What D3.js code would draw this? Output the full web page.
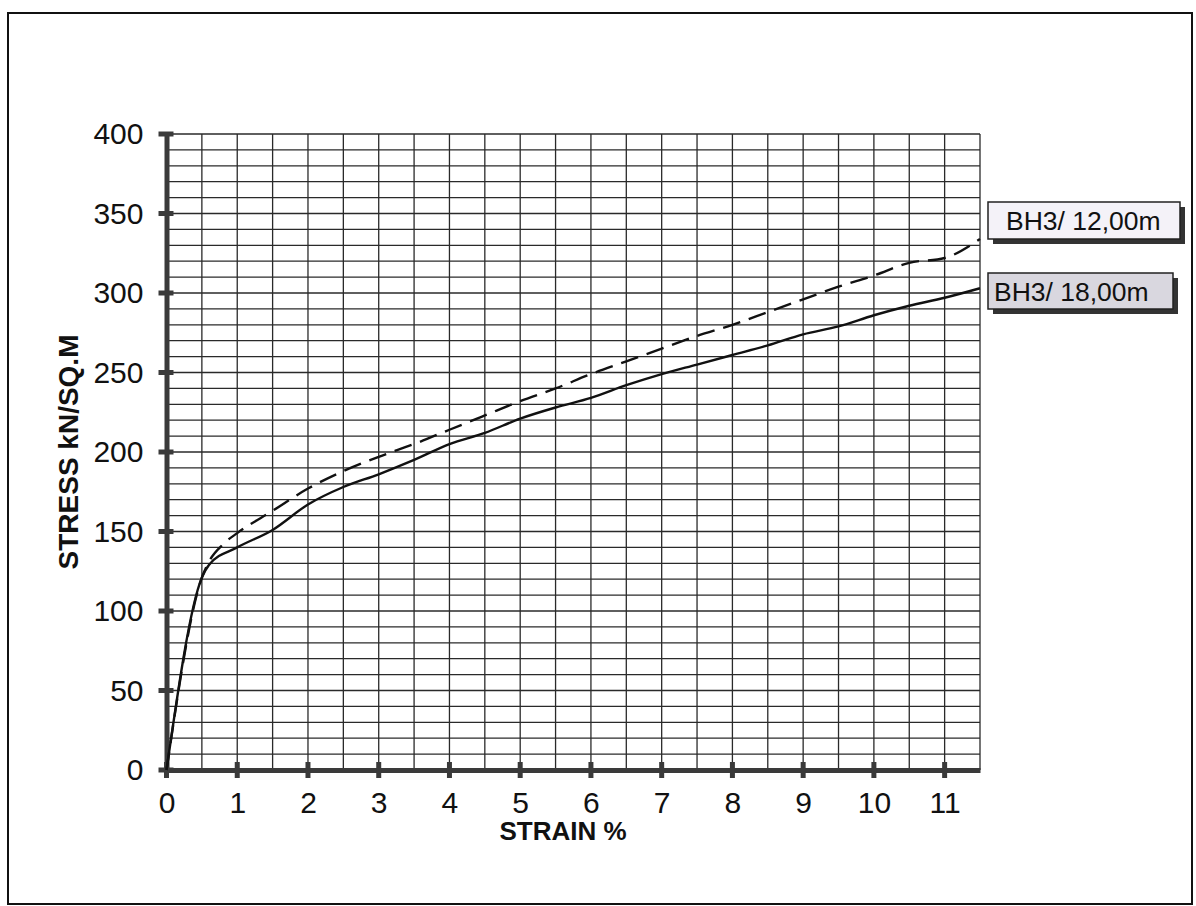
<!DOCTYPE html>
<html>
<head>
<meta charset="utf-8">
<script src="https://cdn.jsdelivr.net/npm/d3@7/dist/d3.min.js"></script>
<style>
  html, body { margin: 0; padding: 0; background: #fff; }
  svg { display: block; }
  text { font-family: "Liberation Sans", Arial, sans-serif; fill: #111; }
</style>
</head>
<body>
<svg id="chart" width="1196" height="906"></svg>
<script>
// ---- data ----
const strain12 = [0, 0.5, 0.6, 0.8, 1, 1.5, 2, 2.5, 3, 3.5, 4, 4.5, 5, 5.5, 6, 6.5, 7, 7.5, 8, 8.5, 9, 9.5, 10, 10.5, 11, 11.5];
const stress12 = [0, 121, 131, 142, 149, 163, 177, 188, 197, 205, 214, 223, 232, 240, 249, 257, 265, 273, 280, 288, 296, 304, 311, 319, 322, 334];
const strain18 = [0, 0.5, 0.6, 1, 1.5, 2, 2.5, 3, 3.5, 4, 4.5, 5, 5.5, 6, 6.5, 7, 7.5, 8, 8.5, 9, 9.5, 10, 10.5, 11, 11.5];
const stress18 = [0, 121, 129, 140, 151, 167, 178, 186, 195, 205, 212, 221, 228, 234, 242, 249, 255, 261, 267, 274, 279, 286, 292, 297, 303];
const seriesNames = ["BH3/ 12,00m", "BH3/ 18,00m"];
const xTicks = [0, 1, 2, 3, 4, 5, 6, 7, 8, 9, 10, 11];
const yTicks = [0, 50, 100, 150, 200, 250, 300, 350, 400];
const xTitle = "STRAIN %";
const yTitle = "STRESS kN/SQ.M";

const svg = d3.select("#chart");

// outer frame
svg.append("rect").attr("x", 8).attr("y", 13).attr("width", 1184).attr("height", 891)
  .attr("fill", "#fff").attr("stroke", "#111").attr("stroke-width", 2);

const x = d3.scaleLinear().domain([0, 11.5]).range([166.5, 980]);
const y = d3.scaleLinear().domain([0, 400]).range([770, 134]);

// grid
const g = svg.append("g");
g.selectAll("line.vg").data(d3.range(0.5, 11.51, 0.5)).join("line")
  .attr("x1", d => x(d)).attr("x2", d => x(d))
  .attr("y1", y(0)).attr("y2", y(400))
  .attr("stroke", "#2a2a2a").attr("stroke-width", 1.3);
g.selectAll("line.hg").data(d3.range(10, 401, 10)).join("line")
  .attr("x1", x(0)).attr("x2", x(11.5))
  .attr("y1", d => y(d)).attr("y2", d => y(d))
  .attr("stroke", "#2a2a2a").attr("stroke-width", 1.3);

// axes
const yAxis = d3.axisLeft(y).tickValues(yTicks).tickSize(0).tickSizeOuter(0).tickPadding(23);
const xAxis = d3.axisBottom(x).tickValues(xTicks).tickSize(0).tickSizeOuter(0).tickPadding(22);
const ya = svg.append("g").attr("transform", `translate(${x(0)},0)`).call(yAxis);
const xa = svg.append("g").attr("transform", `translate(0,${y(0)})`).call(xAxis);
[ya, xa].forEach(a => {
  a.select(".domain").attr("stroke", "#3a3a3a").attr("stroke-width", 5);
  a.selectAll("text").attr("font-size", 30).attr("fill", "#111")
    .attr("font-family", "'Liberation Sans', Arial, sans-serif");
});
// thick tick bars
svg.append("g").selectAll("line").data(yTicks).join("line")
  .attr("x1", x(0) - 8).attr("x2", x(0) + 7)
  .attr("y1", d => y(d)).attr("y2", d => y(d))
  .attr("stroke", "#3a3a3a").attr("stroke-width", 5);
svg.append("g").selectAll("line").data(xTicks).join("line")
  .attr("x1", d => x(d)).attr("x2", d => x(d))
  .attr("y1", y(0) - 8).attr("y2", y(0) + 8)
  .attr("stroke", "#3a3a3a").attr("stroke-width", 5);

// lines
const line = d3.line().x(d => x(d[0])).y(d => y(d[1])).curve(d3.curveMonotoneX);
svg.append("path").datum(d3.zip(strain12, stress12)).attr("d", line)
  .attr("fill", "none").attr("stroke", "#111").attr("stroke-width", 2.4)
  .attr("stroke-dasharray", "18,9");
svg.append("path").datum(d3.zip(strain18, stress18)).attr("d", line)
  .attr("fill", "none").attr("stroke", "#111").attr("stroke-width", 2.4);

// legend labels
const boxes = [
  { name: seriesNames[0], bx: 988, by: 202, bw: 192, bh: 37, fill: "#f4f2f8", tx: 1006 },
  { name: seriesNames[1], bx: 988, by: 273, bw: 185, bh: 36, fill: "#d9d7df", tx: 994 }
];
boxes.forEach(b => {
  svg.append("rect").attr("x", b.bx + 5).attr("y", b.by + 5).attr("width", b.bw).attr("height", b.bh)
    .attr("fill", "#333");
  svg.append("rect").attr("x", b.bx).attr("y", b.by).attr("width", b.bw).attr("height", b.bh)
    .attr("fill", b.fill).attr("stroke", "#222").attr("stroke-width", 1.5);
  svg.append("text").attr("x", b.tx).attr("y", b.by + b.bh / 2 + 9.5)
    .attr("font-size", 26.5).text(b.name);
});

// axis titles
svg.append("text").attr("x", 563).attr("y", 840).attr("text-anchor", "middle")
  .attr("font-size", 26).attr("font-weight", "bold").text(xTitle);
svg.append("text").attr("transform", "translate(78,452) rotate(-90)").attr("text-anchor", "middle")
  .attr("font-size", 28).attr("font-weight", "bold").text(yTitle);
</script>
</body>
</html>
